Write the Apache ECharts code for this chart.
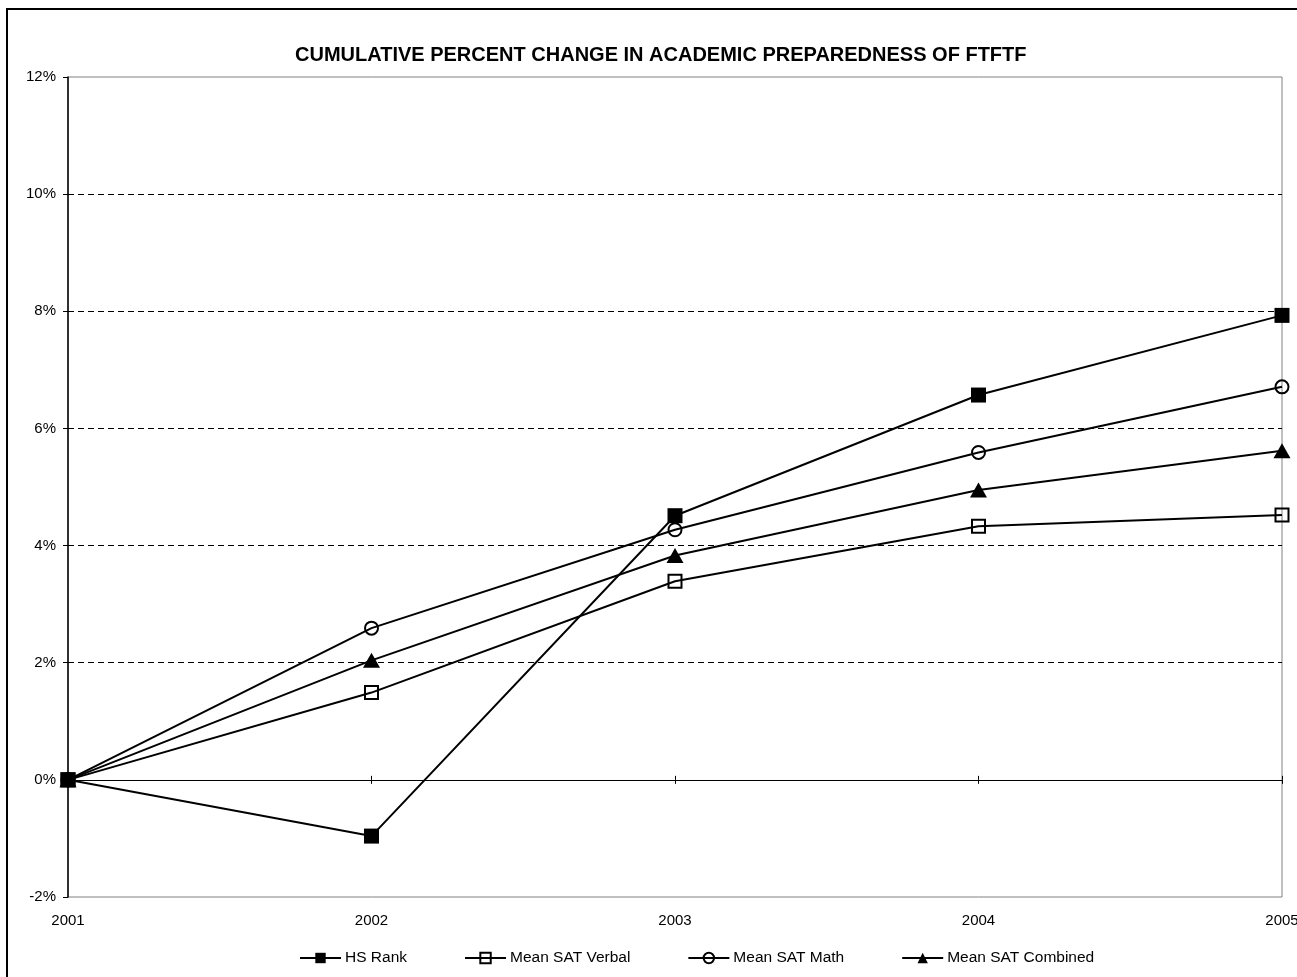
<!DOCTYPE html>
<html>
<head>
<meta charset="utf-8">
<script src="https://cdn.jsdelivr.net/npm/echarts@6/dist/echarts.min.js"></script>
<style>
html,body{margin:0;padding:0;background:#fff;}
#chart{width:1297px;height:977px;}
</style>
</head>
<body>
<div id="chart"></div>
<script>
const years = ['2001', '2002', '2003', '2004', '2005'];
const hsRank = [0, -0.96, 4.51, 6.57, 7.93];
const satVerbal = [0, 1.49, 3.39, 4.33, 4.52];
const satMath = [0, 2.59, 4.27, 5.59, 6.71];
const satCombined = [0, 2.04, 3.83, 4.95, 5.62];
const titleText = 'CUMULATIVE PERCENT CHANGE IN ACADEMIC PREPAREDNESS OF FTFTF';

const FONT = 'Liberation Sans, Arial, sans-serif';
const chart = echarts.init(document.getElementById('chart'), null, {renderer: 'canvas'});

function lineSeries(name, data, symbol, size, hollow) {
  return {
    name: name, type: 'line', data: data, xAxisIndex: 0, yAxisIndex: 0,
    symbol: symbol, symbolSize: size, showSymbol: true,
    lineStyle: {color: '#000', width: 2},
    itemStyle: hollow
      ? {color: 'rgba(255,255,255,0)', borderColor: '#000', borderWidth: 2}
      : {color: '#000', borderColor: '#000', borderWidth: 0},
    emphasis: {disabled: true},
    animation: false, z: 5
  };
}

const option = {
  backgroundColor: '#fff',
  animation: false,
  title: {
    text: titleText, left: 295, top: 45, padding: 0,
    textStyle: {fontFamily: FONT, fontSize: 20, fontWeight: 'bold', color: '#000'}
  },
  graphic: [{
    type: 'rect', z: 100, silent: true,
    shape: {x: 7, y: 9, width: 1400, height: 1100},
    style: {fill: 'none', stroke: '#000', lineWidth: 2}
  }],
  legend: {
    left: 299, top: 950, padding: 0, itemWidth: 41, itemHeight: 13, itemGap: 57,
    textStyle: {fontFamily: FONT, fontSize: 15.5, color: '#000', padding: [0, 0, 0, -1]},
    data: ['HS Rank', 'Mean SAT Verbal', 'Mean SAT Math', 'Mean SAT Combined']
  },
  grid: {left: 68, right: 15, top: 77, bottom: 80, show: true, outerBoundsMode: 'none',
         containLabel: false,
         borderColor: '#808080', borderWidth: 1, backgroundColor: 'transparent'},
  xAxis: [
    {type: 'category', data: years, boundaryGap: false, position: 'bottom',
     axisLine: {show: false, onZero: false}, axisTick: {show: false},
     axisLabel: {fontFamily: FONT, fontSize: 15, color: '#000', margin: 16, hideOverlap: false}},
    {type: 'category', data: years, boundaryGap: false, position: 'bottom',
     axisLine: {show: true, onZero: true, onZeroAxisIndex: 0, lineStyle: {color: '#000', width: 1}},
     axisTick: {show: true, inside: false, length: 4, lineStyle: {color: '#000'}},
     axisLabel: {show: false}},
    {type: 'category', data: years, boundaryGap: false, position: 'bottom',
     axisLine: {show: false, onZero: true, onZeroAxisIndex: 0},
     axisTick: {show: true, inside: true, length: 4, lineStyle: {color: '#000'}},
     axisLabel: {show: false}}
  ],
  yAxis: [{
    type: 'value', min: -2, max: 12, interval: 2,
    axisLine: {show: true, onZero: false, lineStyle: {color: '#000', width: 1.5}},
    axisTick: {show: true, inside: false, length: 5, lineStyle: {color: '#000'}},
    axisLabel: {fontFamily: FONT, fontSize: 15, color: '#000', margin: 12, formatter: '{value}%'},
    splitLine: {show: true, lineStyle: {
      color: ['rgba(0,0,0,0)', 'rgba(0,0,0,0)', '#000', '#000', '#000', '#000', '#000', 'rgba(0,0,0,0)'],
      type: [6, 4], width: 1}}
  }],
  series: [
    lineSeries('HS Rank', hsRank, 'rect', 15, false),
    lineSeries('Mean SAT Verbal', satVerbal, 'rect', 13, true),
    lineSeries('Mean SAT Math', satMath, 'circle', 13, true),
    lineSeries('Mean SAT Combined', satCombined, 'triangle', [17, 15], false)
  ]
};
chart.setOption(option);
</script>
</body>
</html>
